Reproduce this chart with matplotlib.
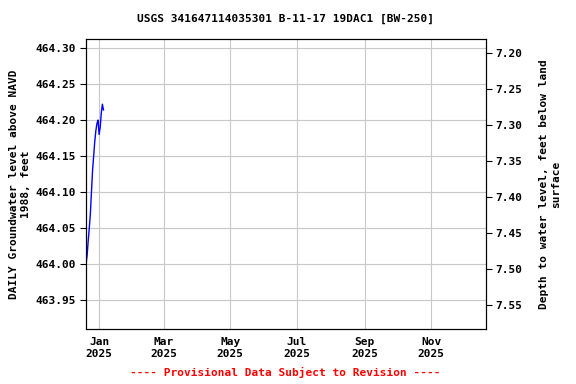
import datetime as dt

import matplotlib
matplotlib.use("Agg")
import matplotlib.pyplot as plt
import matplotlib.dates as mdates

# daily groundwater level, feet above NAVD 1988
dates = [dt.date(2024, 12, 20) + dt.timedelta(days=i) for i in range(17)]
levels = [464.000, 464.012, 464.032, 464.050, 464.070, 464.100, 464.130,
          464.150, 464.170, 464.185, 464.195, 464.200, 464.180, 464.190,
          464.210, 464.222, 464.214]

land_datum = 471.493  # depth = datum - elevation
left_ticks = [463.95, 464.00, 464.05, 464.10, 464.15, 464.20, 464.25, 464.30]
right_ticks = [7.20, 7.25, 7.30, 7.35, 7.40, 7.45, 7.50, 7.55]
month_ticks = [dt.date(2025, m, 1) for m in (1, 3, 5, 7, 9, 11)]

font = dict(family="DejaVu Sans Mono", weight="bold", size=8)

fig = plt.figure(figsize=(5.76, 3.84), dpi=100)
ax = fig.add_axes([0.1493, 0.1432, 0.6944, 0.7552])

ax.plot(dates, levels, color="blue", linewidth=1.0)

ax.set_xlim(dt.date(2024, 12, 20), dt.date(2025, 12, 21))
ax.set_ylim(463.91, 464.3125)
ax.set_yticks(left_ticks)
ax.set_yticklabels([f"{v:.2f}" for v in left_ticks], **font)
ax.set_xticks(month_ticks)
ax.xaxis.set_major_formatter(mdates.DateFormatter("%b\n%Y"))
for lab in ax.get_xticklabels():
    lab.set_fontfamily("DejaVu Sans Mono")
    lab.set_fontweight("bold")
    lab.set_fontsize(8)
ax.grid(True, color="#c8c8c8", linewidth=0.8)
ax.set_axisbelow(True)
ax.tick_params(axis="x", length=0, pad=6)
ax.tick_params(axis="y", length=4)
ax.set_ylabel("DAILY Groundwater level above NAVD\n1988, feet", labelpad=3, **font)

ax2 = ax.twinx()
lo, hi = ax.get_ylim()
ax2.set_ylim(land_datum - lo, land_datum - hi)
ax2.set_yticks(right_ticks)
ax2.set_yticklabels([f"{v:.2f}" for v in right_ticks], **font)
ax2.tick_params(axis="y", length=4, pad=3)
ax2.set_ylabel("Depth to water level, feet below land\nsurface", labelpad=12, **font)

fig.text(0.495, 0.951, "USGS 341647114035301 B-11-17 19DAC1 [BW-250]",
         ha="center", va="center", **font)
fig.text(0.495, 0.022, "---- Provisional Data Subject to Revision ----",
         color="red", ha="center", **font)

fig.savefig("out.png", dpi=100)
